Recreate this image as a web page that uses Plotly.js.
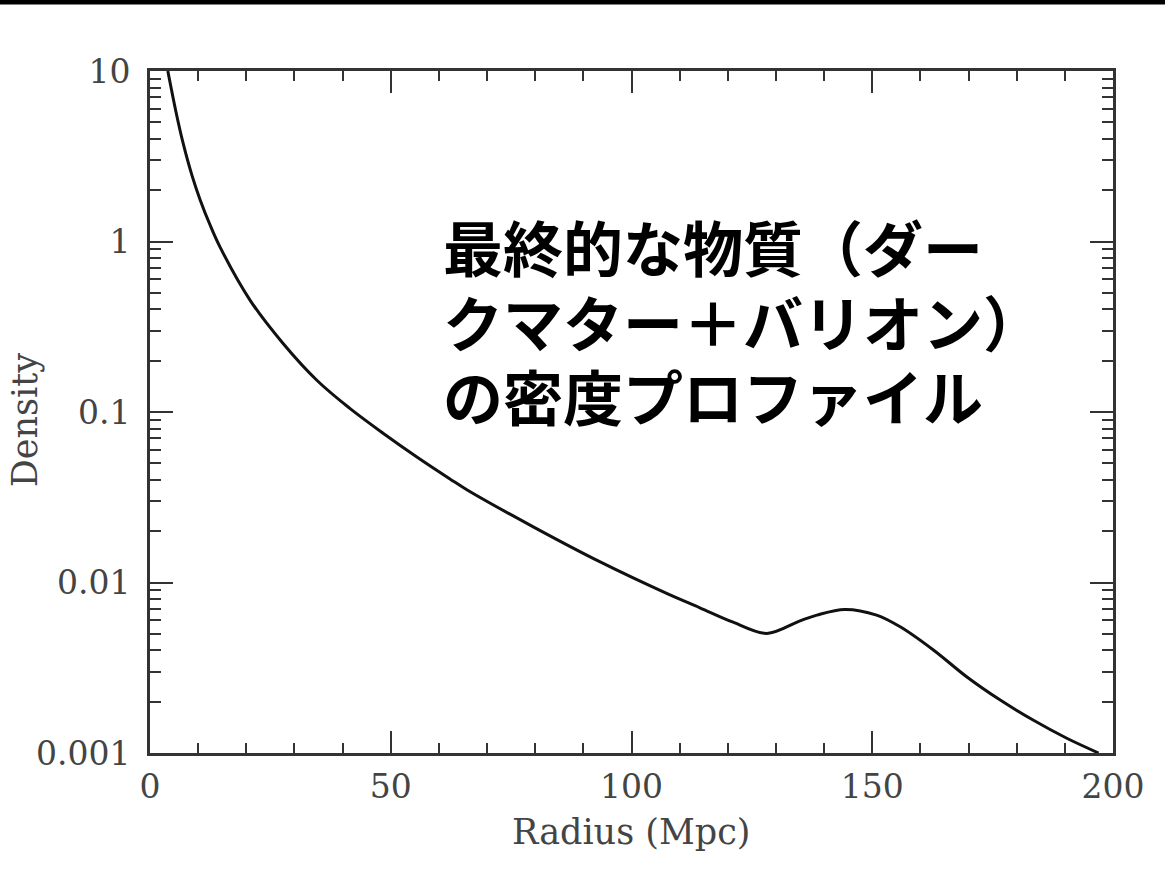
<!DOCTYPE html>
<html>
<head>
<meta charset="utf-8">
<script src="https://cdn.plot.ly/plotly-3.0.1.min.js"></script>
<style>html,body{margin:0;padding:0;background:#fff;}#chart{width:1165px;height:891px;}</style>
</head>
<body>
<div id="chart"></div>
<script>
// Data
const radius = [3.7, 5.4, 6.8, 8.7, 10.4, 12.5, 14.5, 20.8, 27.6, 34.7, 41.5, 48.4, 55.5, 62.3, 65.8, 79.6, 93.5, 107.3, 114.2, 121.1, 128.1, 135.0, 138.5, 144.3, 150.9, 155.8, 162.7, 169.6, 176.5, 183.4, 190.4, 197.0];
const density = [10, 5.75, 3.85, 2.45, 1.76, 1.245, 0.933, 0.452, 0.253, 0.153, 0.105, 0.0751, 0.0543, 0.0405, 0.0350, 0.0212, 0.0132, 0.00863, 0.00711, 0.00585, 0.00503, 0.00596, 0.00644, 0.00695, 0.00644, 0.0055, 0.00402, 0.0028, 0.00205, 0.00156, 0.00122, 0.001];

const xTickVals = [0, 50, 100, 150, 200];
const xTickText = ['0', '50', '100', '150', '200'];
const yTickVals = [0.001, 0.01, 0.1, 1, 10];
const yTickText = ['0.001', '0.01', '0.1', '1', '10'];
const xTitle = 'Radius (Mpc)';
const yTitle = 'Density';
const noteLines = ['最終的な物質（ダー', 'クマター＋バリオン）', 'の密度プロファイル'];

// minor log ticks 2..9 in each decade
const yMinor = [];
for (let e = -3; e < 1; e++) {
  for (let m = 2; m <= 9; m++) yMinor.push(m * Math.pow(10, e));
}

const axisColor = '#333';
const tickFont = {family: 'DejaVu Serif', size: 33, color: '#444'};
const titleFont = {family: 'DejaVu Serif', size: 35, color: '#444'};

// pixel helpers for paper positioning of texts
const L = 150, T = 70.5, W = 963, H = 682.5;
const px2x = p => (p - L) / W;
const px2y = p => 1 - (p - T) / H;

const trace = {
  x: radius,
  y: density,
  type: 'scatter',
  mode: 'lines',
  line: {color: '#111', width: 3, shape: 'spline', smoothing: 1},
  hoverinfo: 'skip',
  showlegend: false
};

const noteY = [245, 320, 394];
const annotations = noteLines.map((t, i) => ({
  xref: 'paper', yref: 'paper',
  x: px2x(441), y: px2y(noteY[i]),
  xanchor: 'left', yanchor: 'middle',
  align: 'left',
  showarrow: false,
  text: t,
  font: {family: 'Noto Sans CJK JP', size: 60, color: '#000', weight: 700}
}));
annotations.push({
  xref: 'paper', yref: 'paper',
  x: px2x(631), y: px2y(832),
  xanchor: 'center', yanchor: 'middle',
  showarrow: false, text: xTitle, font: titleFont
});
annotations.push({
  xref: 'paper', yref: 'paper',
  x: px2x(25), y: px2y(420),
  xanchor: 'center', yanchor: 'middle',
  textangle: -90,
  showarrow: false, text: yTitle, font: titleFont
});

const layout = {
  width: 1165,
  height: 891,
  paper_bgcolor: '#fff',
  plot_bgcolor: '#fff',
  margin: {l: L, r: 1165 - L - W, t: T, b: 891 - T - H, pad: 0},
  showlegend: false,
  xaxis: {
    range: [0, 200],
    showgrid: false,
    zeroline: false,
    showline: true,
    linecolor: axisColor,
    linewidth: 3,
    mirror: 'allticks',
    ticks: 'inside',
    ticklen: 22,
    tickwidth: 2,
    tickcolor: axisColor,
    tickmode: 'array',
    tickvals: xTickVals,
    ticktext: xTickText,
    tickfont: tickFont,
    ticklabelstandoff: 2,
    minor: {dtick: 10, ticks: 'inside', ticklen: 10, tickwidth: 2, tickcolor: axisColor, showgrid: false}
  },
  yaxis: {
    type: 'log',
    range: [-3, 1],
    showgrid: false,
    zeroline: false,
    showline: true,
    linecolor: axisColor,
    linewidth: 3,
    mirror: 'allticks',
    ticks: 'inside',
    ticklen: 23,
    tickwidth: 2,
    tickcolor: axisColor,
    tickmode: 'array',
    tickvals: yTickVals,
    ticktext: yTickText,
    tickfont: tickFont,
    ticklabelstandoff: 10,
    minor: {tickmode: 'array', tickvals: yMinor, ticks: 'inside', ticklen: 11, tickwidth: 2, tickcolor: axisColor, showgrid: false}
  },
  shapes: [{
    type: 'rect', xref: 'paper', yref: 'paper',
    x0: -0.3, x1: 1.2, y0: 1 + (T - 4) / H, y1: 1.2,
    fillcolor: '#000', line: {width: 0}, layer: 'above'
  }],
  annotations: annotations
};

Plotly.newPlot('chart', [trace], layout, {staticPlot: true, displayModeBar: false});
</script>
</body>
</html>
